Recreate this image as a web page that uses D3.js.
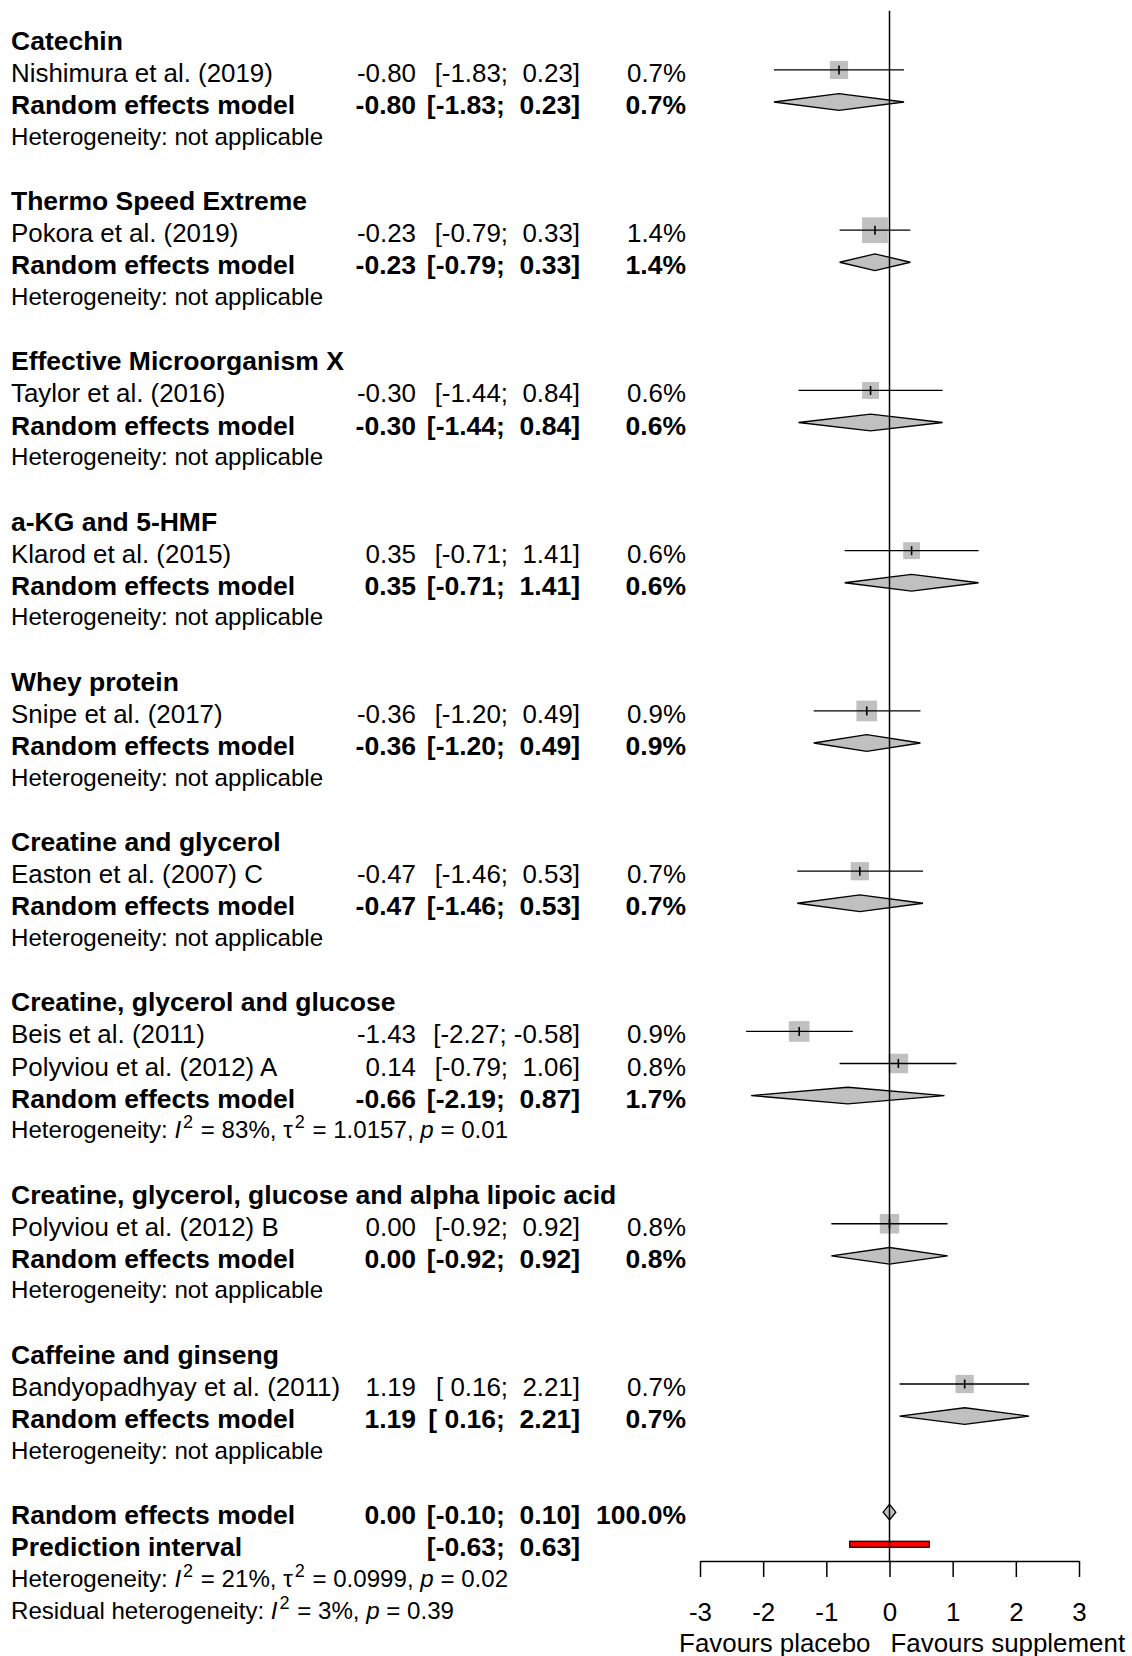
<!DOCTYPE html>
<html>
<head>
<meta charset="utf-8">
<script src="https://cdn.jsdelivr.net/npm/d3@7"></script>
<style>
  html, body { margin: 0; padding: 0; background: #fff; }
  svg text { font-family: "Liberation Sans", Arial, Helvetica, sans-serif; fill: #000; white-space: pre; }
</style>
</head>
<body>
<svg id="chart" width="1132" height="1656"></svg>
<script>
// ---- Subgroups (supplement types) ----
const groupNames = [
  "Catechin",
  "Thermo Speed Extreme",
  "Effective Microorganism X",
  "a-KG and 5-HMF",
  "Whey protein",
  "Creatine and glycerol",
  "Creatine, glycerol and glucose",
  "Creatine, glycerol, glucose and alpha lipoic acid",
  "Caffeine and ginseng"
];

// ---- Individual studies ----
const studyLabels = [
  "Nishimura et al. (2019)",
  "Pokora et al. (2019)",
  "Taylor et al. (2016)",
  "Klarod et al. (2015)",
  "Snipe et al. (2017)",
  "Easton et al. (2007) C",
  "Beis et al. (2011)",
  "Polyviou et al. (2012) A",
  "Polyviou et al. (2012) B",
  "Bandyopadhyay et al. (2011)"
];
const studyGroup  = [0, 1, 2, 3, 4, 5, 6, 6, 7, 8];
const studyTE     = [-0.80, -0.23, -0.30, 0.35, -0.36, -0.47, -1.43, 0.14, 0.00, 1.19];
const studyLower  = [-1.83, -0.79, -1.44, -0.71, -1.20, -1.46, -2.27, -0.79, -0.92, 0.16];
const studyUpper  = [0.23, 0.33, 0.84, 1.41, 0.49, 0.53, -0.58, 1.06, 0.92, 2.21];
const studyWeight = [0.7, 1.4, 0.6, 0.6, 0.9, 0.7, 0.9, 0.8, 0.8, 0.7];

// ---- Subgroup random effects estimates ----
const groupTE     = [-0.80, -0.23, -0.30, 0.35, -0.36, -0.47, -0.66, 0.00, 1.19];
const groupLower  = [-1.83, -0.79, -1.44, -0.71, -1.20, -1.46, -2.19, -0.92, 0.16];
const groupUpper  = [0.23, 0.33, 0.84, 1.41, 0.49, 0.53, 0.87, 0.92, 2.21];
const groupWeight = [0.7, 1.4, 0.6, 0.6, 0.9, 0.7, 1.7, 0.8, 0.7];
const groupI2     = [null, null, null, null, null, null, "83%", null, null];
const groupTau2   = [null, null, null, null, null, null, "1.0157", null, null];
const groupP      = [null, null, null, null, null, null, "0.01", null, null];

// ---- Overall model ----
const overallTE = 0.00, overallLower = -0.10, overallUpper = 0.10, overallWeight = 100.0;
const predLower = -0.63, predUpper = 0.63;
const overallI2 = "21%", overallTau2 = "0.0999", overallP = "0.02";
const residualI2 = "3%", residualP = "0.39";

// ---- Axis ----
const tickValues = [-3, -2, -1, 0, 1, 2, 3];
const labelLeft = "Favours placebo";
const labelRight = "Favours supplement";

// ---------------------------------------------------------------
const svg = d3.select("#chart");
svg.append("rect").attr("width", 1132).attr("height", 1656).attr("fill", "#fff");

const FS = 25.9;        // regular text size
const FS_BOLD = 26.5;   // bold text size
const FS_HET = 24.1;    // heterogeneity text size
const FS_SUP = 18;      // superscripts in heterogeneity lines
const COL_LABEL = 11, COL_TE = 416, COL_CI = 580, COL_W = 686;

const x = d3.scaleLinear().domain([-3, 3]).range([700, 1079]);
const rowY = d3.scaleLinear().domain([1, 50]).range([37.9, 1608.35]);
const sqSide = w => 21.8 * Math.sqrt(w);

const fmt = v => v.toFixed(2);
const padNum = v => (v < 0 ? "" : " ") + fmt(v);
const ciText = (lo, hi) => "[" + padNum(lo) + "; " + padNum(hi) + "]";
const wText = w => w.toFixed(1) + "%";

// Build row list
const rows = [];
let r = 1;
groupNames.forEach((g, gi) => {
  rows.push({ row: r++, kind: "header", label: g });
  studyLabels.forEach((s, si) => {
    if (studyGroup[si] === gi) rows.push({ row: r++, kind: "study", i: si });
  });
  rows.push({ row: r++, kind: "group", i: gi });
  rows.push({ row: r++, kind: "het", i: gi });
  r++; // spacer
});
const overallRow = r++;
const predRow = r++;
const overallHetRow = r++;
const residualRow = r++;

const textLayer = svg.append("g");
const markLayer = svg.append("g");

function addText(xp, row, str, opts = {}) {
  return textLayer.append("text")
    .attr("x", xp)
    .attr("y", rowY(row) + 12)
    .attr("text-anchor", opts.anchor || "start")
    .attr("font-size", opts.bold ? FS_BOLD : FS)
    .attr("font-weight", opts.bold ? "bold" : "normal")
    .text(str);
}

function hetLine(row, parts) {
  const t = textLayer.append("text")
    .attr("x", COL_LABEL)
    .attr("y", rowY(row) + 10.5)
    .attr("font-size", FS_HET);
  let shift = 0;
  parts.forEach(([s, style]) => {
    const sp = t.append("tspan").text(s);
    if (style === "sup") {
      sp.attr("font-size", FS_SUP).attr("dy", -10 - shift).attr("dx", 2);
      shift = -10;
    } else {
      if (shift !== 0) { sp.attr("dy", -shift).attr("dx", 1); shift = 0; }
      if (style === "it") sp.attr("font-style", "italic");
    }
  });
}

function diamond(te, lo, hi, row, h) {
  const yc = rowY(row);
  markLayer.append("path")
    .attr("d", d3.line()([[x(lo), yc], [x(te), yc - h], [x(hi), yc], [x(te), yc + h]]) + "Z")
    .attr("fill", "#c0c0c0")
    .attr("stroke", "#000")
    .attr("stroke-width", 1.3);
}

rows.forEach(d => {
  if (d.kind === "header") {
    addText(COL_LABEL, d.row, d.label, { bold: true });
  } else if (d.kind === "study") {
    const i = d.i, yc = rowY(d.row);
    addText(COL_LABEL, d.row, studyLabels[i]);
    addText(COL_TE, d.row, fmt(studyTE[i]), { anchor: "end" });
    addText(COL_CI, d.row, ciText(studyLower[i], studyUpper[i]), { anchor: "end" });
    addText(COL_W, d.row, wText(studyWeight[i]), { anchor: "end" });
    const s = sqSide(studyWeight[i]);
    markLayer.append("rect")
      .attr("x", x(studyTE[i]) - s / 2).attr("y", yc - s / 2)
      .attr("width", s).attr("height", s)
      .attr("fill", "#c0c0c0");
    markLayer.append("line")
      .attr("x1", x(studyLower[i])).attr("x2", x(studyUpper[i]))
      .attr("y1", yc).attr("y2", yc)
      .attr("stroke", "#000").attr("stroke-width", 1.3);
    markLayer.append("line")
      .attr("x1", x(studyTE[i])).attr("x2", x(studyTE[i]))
      .attr("y1", yc - 4.5).attr("y2", yc + 4.5)
      .attr("stroke", "#000").attr("stroke-width", 1.6);
  } else if (d.kind === "group") {
    const i = d.i;
    addText(COL_LABEL, d.row, "Random effects model", { bold: true });
    addText(COL_TE, d.row, fmt(groupTE[i]), { anchor: "end", bold: true });
    addText(COL_CI, d.row, ciText(groupLower[i], groupUpper[i]), { anchor: "end", bold: true });
    addText(COL_W, d.row, wText(groupWeight[i]), { anchor: "end", bold: true });
    diamond(groupTE[i], groupLower[i], groupUpper[i], d.row, 8.3);
  } else if (d.kind === "het") {
    const i = d.i;
    if (groupI2[i] === null) {
      hetLine(d.row, [["Heterogeneity: not applicable"]]);
    } else {
      hetLine(d.row, [["Heterogeneity: "], ["I", "it"], ["2", "sup"], [" = " + groupI2[i] + ", "],
        ["\u03c4"], ["2", "sup"], [" = " + groupTau2[i] + ", "], ["p", "it"], [" = " + groupP[i]]]);
    }
  }
});

// Overall model rows
addText(COL_LABEL, overallRow, "Random effects model", { bold: true });
addText(COL_TE, overallRow, fmt(overallTE), { anchor: "end", bold: true });
addText(COL_CI, overallRow, ciText(overallLower, overallUpper), { anchor: "end", bold: true });
addText(COL_W, overallRow, wText(overallWeight), { anchor: "end", bold: true });
diamond(overallTE, overallLower, overallUpper, overallRow, 7.8);

addText(COL_LABEL, predRow, "Prediction interval", { bold: true });
addText(COL_CI, predRow, ciText(predLower, predUpper), { anchor: "end", bold: true });
markLayer.append("rect")
  .attr("x", x(predLower)).attr("y", rowY(predRow) - 3)
  .attr("width", x(predUpper) - x(predLower)).attr("height", 6)
  .attr("fill", "#ff0000").attr("stroke", "#000").attr("stroke-width", 1.2);

hetLine(overallHetRow, [["Heterogeneity: "], ["I", "it"], ["2", "sup"], [" = " + overallI2 + ", "],
  ["\u03c4"], ["2", "sup"], [" = " + overallTau2 + ", "], ["p", "it"], [" = " + overallP]]);
hetLine(residualRow, [["Residual heterogeneity: "], ["I", "it"], ["2", "sup"], [" = " + residualI2 + ", "],
  ["p", "it"], [" = " + residualP]]);

// Axis
const axisY = 1561;
const axisG = svg.append("g")
  .attr("transform", `translate(0,${axisY})`)
  .call(d3.axisBottom(x).tickValues(tickValues).tickSize(16).tickSizeOuter(0)
    .tickPadding(26).tickFormat(d => String(d)));
axisG.attr("font-family", null).attr("font-size", null);
axisG.selectAll("path, line").attr("stroke", "#000").attr("stroke-width", 1.5);
axisG.selectAll("text").attr("font-size", FS).attr("fill", "#000");

svg.append("text").attr("x", x(0) - 19).attr("y", 1652)
  .attr("text-anchor", "end").attr("font-size", FS).text(labelLeft);
svg.append("text").attr("x", x(0) + 1).attr("y", 1652)
  .attr("text-anchor", "start").attr("font-size", FS).text(labelRight);

// Reference line at no effect
svg.append("line")
  .attr("x1", x(0)).attr("x2", x(0))
  .attr("y1", 10.7).attr("y2", axisY)
  .attr("stroke", "#000").attr("stroke-width", 1.5);
</script>
</body>
</html>
